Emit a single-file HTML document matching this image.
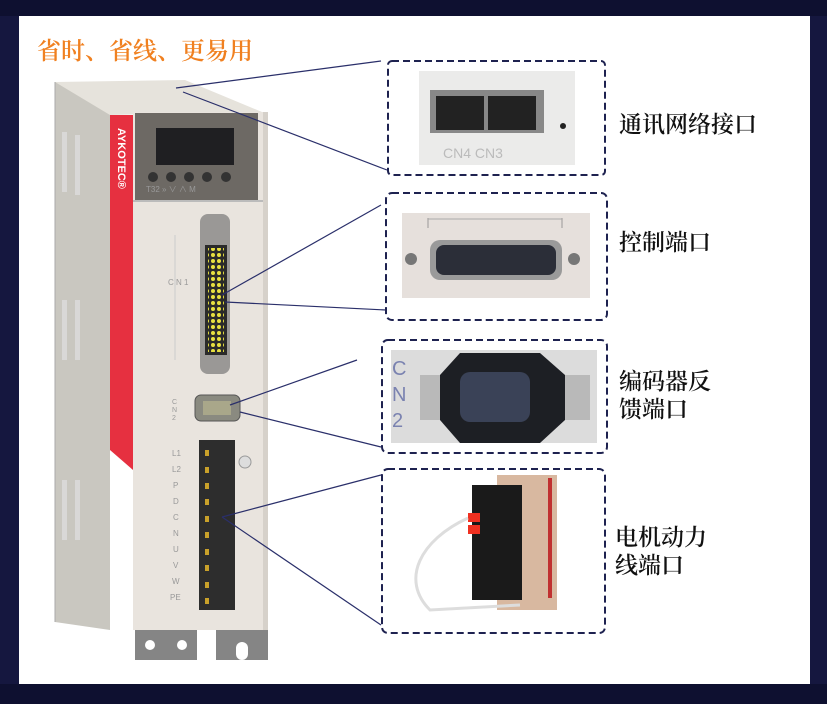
<!DOCTYPE html>
<html><head><meta charset="utf-8"><style>
body{margin:0;width:827px;height:704px;overflow:hidden;background:#15173f;font-family:"Liberation Sans","Noto Sans CJK SC",sans-serif}
.lbl{position:absolute;font-size:23px;color:#111;line-height:28px;font-family:"Liberation Serif","Noto Serif CJK SC",serif;font-weight:600}
</style></head><body>
<div style="position:absolute;left:0;top:0;width:827px;height:16px;background:#0e1030"></div>
<div style="position:absolute;left:0;top:684px;width:827px;height:20px;background:#0e1030"></div>
<div style="position:absolute;left:19px;top:16px;width:791px;height:668px;background:#fff"></div>
<div style="position:absolute;left:37px;top:31px;font-size:24px;color:#f08020;font-weight:600;font-family:'Liberation Serif','Noto Serif CJK SC',serif">省时、省线、更易用</div>
<div class="lbl" style="left:619px;top:111px">通讯网络接口</div>
<div class="lbl" style="left:619px;top:229px">控制端口</div>
<div class="lbl" style="left:619px;top:368px">编码器反<br>馈端口</div>
<div class="lbl" style="left:615px;top:524px">电机动力<br>线端口</div>
<svg width="827" height="704" style="position:absolute;left:0;top:0">
<polygon points="55,82 110,82 110,630 55,622" fill="#c9c7c0"/>
<polygon points="55,82 185,80 262,112 110,115" fill="#e6e3dc"/>
<line x1="55" y1="82" x2="55" y2="622" stroke="#aaa"/>
<g fill="#ddd" opacity=".8"><rect x="62" y="132" width="5" height="60"/><rect x="75" y="135" width="5" height="60"/><rect x="62" y="300" width="5" height="60"/><rect x="75" y="300" width="5" height="60"/><rect x="62" y="480" width="5" height="60"/><rect x="75" y="480" width="5" height="60"/></g>
<polygon points="110,115 133,115 133,470 110,450" fill="#e63040"/>
<text x="118" y="128" fill="#fff" font-size="11" font-weight="bold" transform="rotate(90 118 128)" style="font-family:'Liberation Sans',sans-serif">AYKOTEC®</text>
<rect x="133" y="112" width="135" height="518" fill="#e9e4de"/>
<rect x="263" y="112" width="5" height="518" fill="#d6d1ca"/>
<rect x="135" y="113" width="123" height="88" fill="#6d6964"/>
<rect x="156" y="128" width="78" height="37" fill="#1f1f22"/>
<g fill="#333"><circle cx="153" cy="177" r="5"/><circle cx="171" cy="177" r="5"/><circle cx="189" cy="177" r="5"/><circle cx="207" cy="177" r="5"/><circle cx="226" cy="177" r="5"/></g>
<text x="146" y="192" font-size="8" fill="#999">T32 »  ∨  ∧  M</text>
<rect x="133" y="200" width="130" height="2" fill="#bbb"/>
<rect x="200" y="214" width="30" height="160" rx="8" fill="#9a9896"/>
<rect x="205" y="245" width="22" height="110" fill="#2a2a2a"/>
<defs><pattern id="p" width="6" height="6" patternUnits="userSpaceOnUse"><circle cx="3" cy="3" r="2" fill="#e8e040"/></pattern></defs>
<rect x="208" y="248" width="16" height="104" fill="url(#p)"/>
<line x1="175" y1="235" x2="175" y2="360" stroke="#ccc"/>
<text x="168" y="285" font-size="8" fill="#999">C N 1</text>
<rect x="195" y="395" width="45" height="26" rx="6" fill="#8a8a80" stroke="#555"/>
<rect x="203" y="401" width="28" height="14" fill="#a9a78a"/>
<text x="172" y="404" font-size="7" fill="#999">C</text><text x="172" y="412" font-size="7" fill="#999">N</text><text x="172" y="420" font-size="7" fill="#999">2</text>
<rect x="199" y="440" width="36" height="170" fill="#2d2d2d"/>
<g fill="#c9a12a"><rect x="205" y="450" width="4" height="6"/><rect x="205" y="467" width="4" height="6"/><rect x="205" y="483" width="4" height="6"/><rect x="205" y="499" width="4" height="6"/><rect x="205" y="516" width="4" height="6"/><rect x="205" y="532" width="4" height="6"/><rect x="205" y="549" width="4" height="6"/><rect x="205" y="565" width="4" height="6"/><rect x="205" y="582" width="4" height="6"/><rect x="205" y="598" width="4" height="6"/></g>
<circle cx="245" cy="462" r="6" fill="#ddd" stroke="#999"/>
<g font-size="8" fill="#999"><text x="172" y="456">L1</text><text x="172" y="472">L2</text><text x="173" y="488">P</text><text x="173" y="504">D</text><text x="173" y="520">C</text><text x="173" y="536">N</text><text x="173" y="552">U</text><text x="173" y="568">V</text><text x="172" y="584">W</text><text x="170" y="600">PE</text></g>
<rect x="135" y="630" width="62" height="30" fill="#858585"/><circle cx="150" cy="645" r="5" fill="#fff"/><circle cx="182" cy="645" r="5" fill="#fff"/>
<rect x="216" y="630" width="52" height="30" fill="#858585"/><rect x="236" y="642" width="12" height="18" rx="6" fill="#fff"/>
<g stroke="#2a2f6a" stroke-width="1.2" fill="none">
<line x1="176" y1="88" x2="381" y2="61"/><line x1="183" y1="92" x2="387" y2="170"/>
<line x1="222" y1="295" x2="381" y2="205"/><line x1="225" y1="302" x2="386" y2="310"/>
<line x1="230" y1="405" x2="357" y2="360"/><line x1="240" y1="412" x2="381" y2="447"/>
<line x1="222" y1="517" x2="381" y2="475"/><line x1="222" y1="517" x2="381" y2="625"/>
</g>
<g stroke="#1e2250" stroke-width="2" stroke-dasharray="7,4" fill="none">
<rect x="388" y="61" width="217" height="114" rx="4"/>
<rect x="386" y="193" width="221" height="127" rx="6"/>
<rect x="382" y="340" width="225" height="113" rx="6"/>
<rect x="382" y="469" width="223" height="164" rx="6"/>
</g>
<rect x="419" y="71" width="156" height="94" fill="#ebebea"/>
<rect x="430" y="90" width="114" height="43" fill="#888"/>
<rect x="436" y="96" width="48" height="34" fill="#222"/><rect x="488" y="96" width="48" height="34" fill="#222"/>
<circle cx="563" cy="126" r="3" fill="#222"/>
<text x="443" y="158" font-size="14" fill="#bbb">CN4  CN3</text>
<rect x="402" y="213" width="188" height="85" fill="#e6e0dc"/>
<line x1="428" y1="218" x2="428" y2="228" stroke="#999"/><line x1="562" y1="218" x2="562" y2="228" stroke="#999"/>
<line x1="428" y1="219" x2="562" y2="219" stroke="#aaa"/>
<rect x="430" y="240" width="132" height="40" rx="10" fill="#9a9a9a"/>
<rect x="436" y="245" width="120" height="30" rx="8" fill="#2b2e38"/>
<circle cx="411" cy="259" r="6" fill="#777"/><circle cx="574" cy="259" r="6" fill="#777"/>
<rect x="391" y="350" width="206" height="93" fill="#dcdcdc"/>
<rect x="420" y="375" width="170" height="45" fill="#b9b9b9"/>
<polygon points="460,353 540,353 565,375 565,420 540,443 460,443 440,420 440,375" fill="#1d1f24"/>
<rect x="460" y="372" width="70" height="50" rx="10" fill="#3a4257"/>
<text x="392" y="375" font-size="20" fill="#7a82b0">C</text><text x="392" y="401" font-size="20" fill="#7a82b0">N</text><text x="392" y="427" font-size="20" fill="#7a82b0">2</text>
<rect x="497" y="475" width="60" height="135" fill="#d8b8a0"/>
<rect x="548" y="478" width="4" height="120" fill="#c03030"/>
<rect x="472" y="485" width="50" height="115" fill="#1a1a1a"/>
<rect x="468" y="513" width="12" height="9" fill="#f03020"/><rect x="468" y="525" width="12" height="9" fill="#f03020"/>
<path d="M468 518 C420 540 400 580 430 610 L520 605" stroke="#ddd" stroke-width="3" fill="none"/>
</svg>
</body></html>
